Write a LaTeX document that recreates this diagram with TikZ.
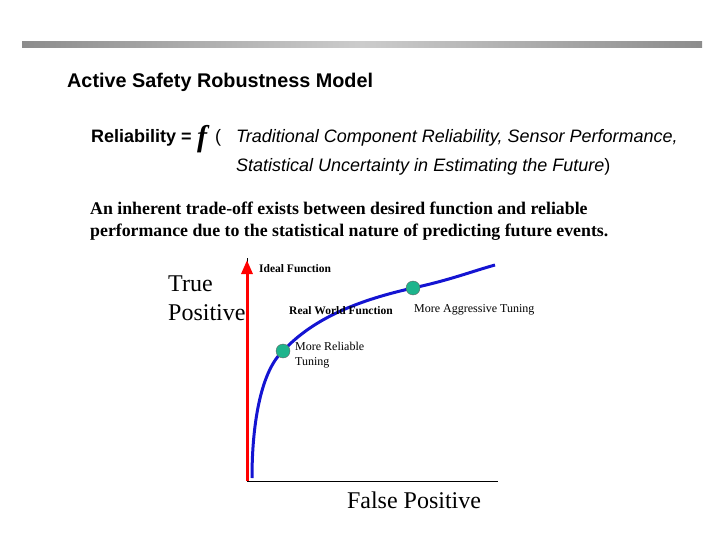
\documentclass[tikz,border=0pt]{standalone}
\usepackage{fontspec}
\setmainfont{Liberation Serif}
\setsansfont{Liberation Sans}
\usetikzlibrary{arrows.meta}
\definecolor{dotg}{RGB}{30,180,140}
\definecolor{curveb}{RGB}{20,20,210}
\begin{document}
\begin{tikzpicture}[x=1pt,y=-1pt,
  lbl/.style={anchor=west,inner sep=0pt,font=\fontsize{12}{14}\selectfont},
  blbl/.style={lbl,font=\fontsize{11.5}{14}\selectfont\bfseries},
  dot/.style={circle,fill=dotg,draw=black!60,minimum size=14pt,inner sep=0pt}]
\useasboundingbox (0,0) rectangle (720,540);
\shade[left color=gray!90,right color=gray!90,middle color=gray!40] (22,42) rectangle (702,48);
\node[anchor=west,inner sep=0pt,font=\sffamily\bfseries\fontsize{19.8}{22}\selectfont] (title) at (67,82) {Active Safety Robustness Model};
\node[anchor=west,inner sep=0pt,font=\sffamily\bfseries\fontsize{18}{21}\selectfont] (rel) at (91,138) {Reliability =};
\node[anchor=west,inner sep=0pt,font=\bfseries\itshape\fontsize{30}{32}\selectfont] (f) at (197,139) {f};
\node[anchor=west,inner sep=0pt,font=\sffamily\fontsize{18}{21}\selectfont] (par) at (215,138) {(};
\node[anchor=west,inner sep=0pt,font=\sffamily\itshape\fontsize{18}{21}\selectfont] (l1) at (236,138) {Traditional Component Reliability, Sensor Performance,};
\node[anchor=west,inner sep=0pt,font=\sffamily\fontsize{18}{21}\selectfont] (l2) at (236,167) {\textit{Statistical Uncertainty in Estimating the Future})};
\node[anchor=west,inner sep=0pt,font=\bfseries\fontsize{17.8}{22}\selectfont,align=left] (p) at (90,221) {An inherent trade-off exists between desired function and reliable\\performance due to the statistical nature of predicting future events.};
\coordinate (o) at (247,481);
\coordinate (xe) at (498,481);
\coordinate (ye) at (247,260);
\draw[line width=1pt] (o) -- (xe);
\draw[line width=1pt] (247,258) -- (247,272);
\draw[red,line width=3pt,-{Triangle[length=14pt,width=11pt]}] (o) -- (ye);
\draw[curveb,line width=3pt] (252,478) .. controls (252,420) and (262,370) .. (283,351)
  .. controls (310,322) and (350,302) .. (413,288) .. controls (450,280) and (470,272) .. (495,265);
\node[dot] (d1) at (283,351) {};
\node[dot] (d2) at (413,288) {};
\node[anchor=west,inner sep=0pt,font=\fontsize{24}{29}\selectfont,align=left] (tp) at (168,298) {True\\Positive};
\node[inner sep=0pt,font=\fontsize{24}{28}\selectfont] (fp) at (414,500) {False Positive};
\node[blbl] (ideal) at (259,269) {Ideal Function};
\node[blbl] (rw) at (289,311) {Real World Function};
\node[lbl] (agg) at (414,310) {More Aggressive Tuning};
\node[lbl,align=left,font=\fontsize{12}{15}\selectfont] (mr) at (295,355) {More Reliable\\Tuning};
\end{tikzpicture}
\end{document}
